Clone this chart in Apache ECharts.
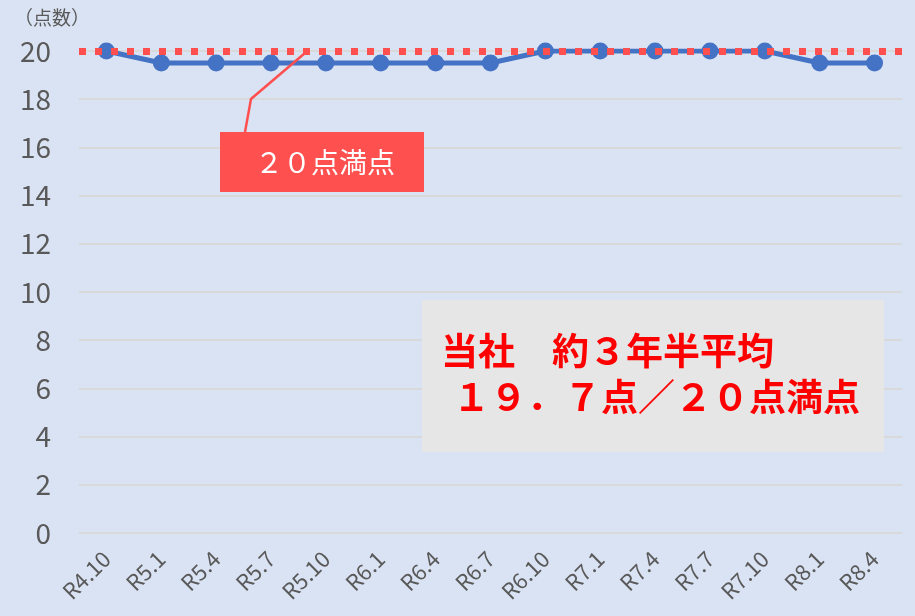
<!DOCTYPE html>
<html><head><meta charset="utf-8">
<script src="https://cdn.jsdelivr.net/npm/echarts@6/dist/echarts.min.js"></script>
<style>html,body{margin:0;padding:0;background:#dae3f3}#c{width:915px;height:616px}</style>
</head><body><div id="c"></div>
<script>
const categories = ['R4.10','R5.1','R5.4','R5.7','R5.10','R6.1','R6.4','R6.7','R6.10','R7.1','R7.4','R7.7','R7.10','R8.1','R8.4'];
const scores = [20,19.5,19.5,19.5,19.5,19.5,19.5,19.5,20,20,20,20,20,19.5,19.5];
const fullScore = 20;
const yTicks = {min:0, max:20, interval:2};
const yName = '（点数）';
const calloutText = '２０点満点';
const summaryLine1 = '当社　約３年半平均';
const summaryLine2 = '１９．７点／２０点満点';

const chart = echarts.init(document.getElementById('c'));
const font = '"Noto Sans CJK JP", "Noto Sans", sans-serif';
chart.setOption({
  backgroundColor:'#dae3f3',
  animation:false,
  grid:{left:79, right:13, top:51, bottom:83, containLabel:false},
  xAxis:{type:'category', data:categories, boundaryGap:true,
    axisLine:{show:false}, axisTick:{show:false},
    axisLabel:{rotate:45, color:'#595959', fontSize:22, fontFamily:font, margin:22, interval:0}},
  yAxis:{type:'value', min:yTicks.min, max:yTicks.max, interval:yTicks.interval,
    name:yName, nameLocation:'end', nameGap:24,
    nameTextStyle:{color:'#595959', fontSize:19, fontFamily:font, align:'center', padding:[0,0,0,-54]},
    axisLine:{show:false}, axisTick:{show:false},
    axisLabel:{color:'#595959', fontSize:28, fontFamily:font, margin:28},
    splitLine:{lineStyle:{color:'#d9d9d9', width:2}}},
  series:[{type:'line', data:scores, symbol:'circle', symbolSize:17,
    lineStyle:{color:'#4472c4', width:5}, itemStyle:{color:'#4472c4'},
    markLine:{silent:true, symbol:'none', label:{show:false},
      lineStyle:{color:'#ff4f4f', width:7, type:[7,9], opacity:1},
      data:[{yAxis:fullScore}]}
  }],
  graphic:[
    {type:'polyline', shape:{points:[[245,132],[251,99],[305,53]]}, style:{stroke:'#ff4f4f', lineWidth:2.5, fill:null}, z:10},
    {type:'rect', shape:{x:220, y:132, width:204, height:60}, style:{fill:'#ff5050'}, z:10},
    {type:'text', x:325, y:162, style:{text:calloutText, fill:'#ffffff', font:'28px '+font, align:'center', verticalAlign:'middle'}, z:11},
    {type:'rect', shape:{x:422, y:300, width:462, height:152}, style:{fill:'#e6e6e6'}, z:10},
    {type:'text', x:441, y:351, style:{text:summaryLine1, fill:'#ff0000', font:'bold 37px '+font, verticalAlign:'middle'}, z:11},
    {type:'text', x:453, y:397, style:{text:summaryLine2, fill:'#ff0000', font:'bold 37px '+font, verticalAlign:'middle'}, z:11}
  ]
});
</script></body></html>
